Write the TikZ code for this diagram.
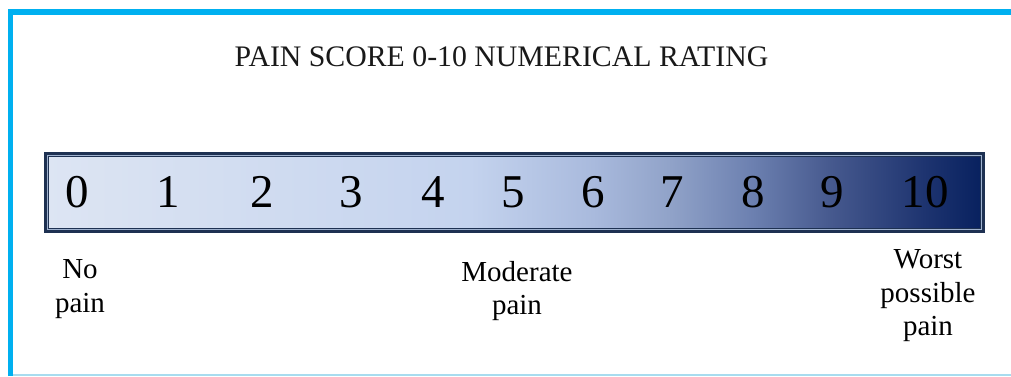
\documentclass[tikz,border=0pt]{standalone}
\usepackage{fontspec}
\setmainfont{Liberation Serif}
\definecolor{frameblue}{HTML}{00B0F0}
\definecolor{framelight}{HTML}{A8DCEF}
\definecolor{bardark}{HTML}{1E3152}
\definecolor{barlight}{HTML}{9FB2CF}
\definecolor{gA}{HTML}{DDE5F3}
\definecolor{gB}{HTML}{C4D3EE}
\definecolor{gC}{HTML}{A9BADD}
\definecolor{gD}{HTML}{90A2C8}
\definecolor{gE}{HTML}{6C80B0}
\definecolor{gF}{HTML}{46598E}
\definecolor{gG}{HTML}{1E3470}
\definecolor{gH}{HTML}{07205E}
\pgfdeclarehorizontalshading{painbar}{100bp}{color(0bp)=(gA); color(25bp)=(gA); color(47.65bp)=(gB); color(54.15bp)=(gC); color(58.35bp)=(gD); color(62.65bp)=(gE); color(66.85bp)=(gF); color(71.8bp)=(gG); color(75bp)=(gH); color(100bp)=(gH)}
\tikzset{
  digit/.style={inner sep=0pt, font=\fontsize{47}{50}\selectfont, text=black},
  label/.style={inner sep=0pt, anchor=north, align=center, font=\fontsize{29}{33.5}\selectfont, text=black},
  titletext/.style={inner sep=0pt, font=\fontsize{29.8}{32}\selectfont, text=black!90}
}
\begin{document}
\begin{tikzpicture}[x=1pt,y=-1pt]
\useasboundingbox (0,0) rectangle (1011,376);
% outer frame
\draw[framelight, line width=1.5pt] (13,375) -- (1011,375);
\draw[frameblue, line width=5.5pt, line join=miter] (10.5,376) -- (10.5,12) -- (1011,12);
% title
\node[titletext] (title) at (501.5,56.5) {PAIN SCORE 0-10 NUMERICAL RATING};
% bar
\path[shading=painbar] (45,153) rectangle (984,232);
\draw[bardark, line width=3pt] (45.5,153.5) rectangle (983.5,231.5);
\draw[barlight, line width=1pt] (47.5,155.5) rectangle (981.5,229.5);
\draw[bardark, line width=1pt] (48.5,156.5) rectangle (980.5,228.5);
% digits
\node[digit] (d0) at (77,192) {0};
\node[digit] (d1) at (168,192) {1};
\node[digit] (d2) at (262,192) {2};
\node[digit] (d3) at (351,192) {3};
\node[digit] (d4) at (433,192) {4};
\node[digit] (d5) at (513,192) {5};
\node[digit] (d6) at (593,192) {6};
\node[digit] (d7) at (672,192) {7};
\node[digit] (d8) at (753,192) {8};
\node[digit] (d9) at (832,192) {9};
\node[digit] (d10) at (925,192) {10};
% labels
\node[label] (nopain) at (80,259.5) {No\\pain};
\node[label] (moderate) at (517,261) {Moderate\\pain};
\node[label] (worst) at (928,249.5) {Worst\\possible\\pain};
\end{tikzpicture}
\end{document}
